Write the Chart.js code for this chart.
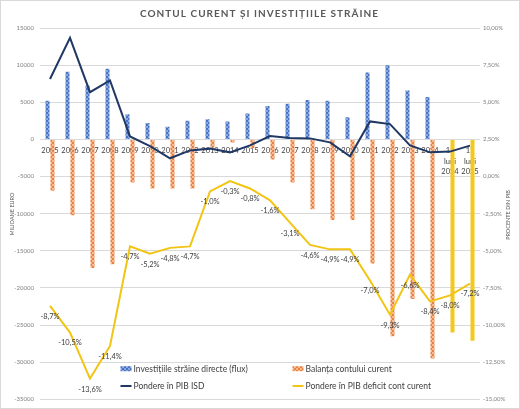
<!DOCTYPE html>
<html><head><meta charset="utf-8">
<script src="https://cdn.jsdelivr.net/npm/chart.js@4.4.1/dist/chart.umd.min.js"></script>
<style>html,body{margin:0;padding:0;background:#fff}#wrap{width:520px;height:409px;position:relative}</style>
</head><body><div id="wrap"><canvas id="c"></canvas></div>
<script>
// ---- data ----
const categories = ['2005','2006','2007','2008','2009','2010','2011','2012','2013','2014','2015','2016','2017','2018','2019','2020','2021','2022','2023','2024',['11','luni','2024'],['11','luni','2025']];
const fdiFlow = [5200,9100,7250,9500,3400,2200,1700,2500,2700,2400,3500,4500,4800,5300,5200,3000,9000,10000,6600,5700,null,null];
const caBalance = [-6900,-10200,-17300,-16800,-5800,-6600,-6600,-6600,-1100,-400,-1200,-2700,-5800,-9400,-10850,-10850,-16700,-26500,-21500,-29500,-26000,-27100];
const fdiShare = [6.57,9.34,5.68,6.47,2.70,2.05,1.23,1.76,1.88,1.63,2.10,2.73,2.59,2.57,2.30,1.36,3.71,3.53,2.10,1.63,1.68,2.08];
const deficitShare = [-8.7,-10.5,-13.6,-11.4,-4.7,-5.2,-4.8,-4.7,-1.0,-0.3,-0.8,-1.6,-3.1,-4.6,-4.9,-4.9,-7.0,-9.3,-6.6,-8.4,-8.0,-7.2];
const seriesNames = ['Investițiile străine directe (flux)','Balanța contului curent','Pondere în PIB ISD','Pondere în PIB deficit cont curent'];
const titleText = 'CONTUL CURENT ȘI INVESTIȚIILE STRĂINE';
const leftAxisTitle = 'MILIOANE EURO';
const rightAxisTitle = 'PROCENTE DIN PIB';
const leftRange = [-35000, 15000, 5000];
const rightRange = [-15, 10, 2.5];
const partialPeriods = [20, 21]; // indexes of the 11-month bars

// ---- styles ----
const FONT = 'Lato, "Liberation Sans", sans-serif';
function makePattern(base, light){
  const c = document.createElement('canvas'); c.width = 4; c.height = 4;
  const x = c.getContext('2d');
  x.fillStyle = base; x.fillRect(0,0,4,4);
  x.fillStyle = light; x.fillRect(0,0,2,2); x.fillRect(2,2,2,2);
  return x.createPattern(c, 'repeat');
}
const bluePat = makePattern('#4773c6', '#8eaadd');
const orangePat = makePattern('#ec8240', '#f5bb94');
const yellow = '#f4c81c';
const caColors = caBalance.map((v,i) => partialPeriods.includes(i) ? yellow : orangePat);

const titlePlugin = {
  id: 'titleDraw',
  afterDraw(chart){
    const ctx = chart.ctx;
    ctx.save();
    ctx.font = 'bold 10px ' + FONT;
    ctx.fillStyle = '#595959';
    ctx.textBaseline = 'middle';
    const w0 = ctx.measureText(titleText).width;
    const sp = Math.max(0, (238 - w0) / (titleText.length - 1));
    ctx.letterSpacing = sp + 'px';
    const w = ctx.measureText(titleText).width;
    ctx.textAlign = 'left';
    ctx.fillText(titleText, 259 - w/2 + sp/2, 13.5);
    ctx.restore();
    // axis titles
    ctx.save();
    ctx.font = '5.5px ' + FONT;
    ctx.fillStyle = '#595959';
    ctx.textAlign = 'center'; ctx.textBaseline = 'middle';
    ctx.translate(12, 214); ctx.rotate(-Math.PI/2); ctx.fillText(leftAxisTitle, 0, 0);
    ctx.restore();
    ctx.save();
    ctx.font = '5.5px ' + FONT;
    ctx.fillStyle = '#595959';
    ctx.textAlign = 'center'; ctx.textBaseline = 'middle';
    ctx.translate(508, 215); ctx.rotate(-Math.PI/2); ctx.fillText(rightAxisTitle, 0, 0);
    ctx.restore();
    // border
    ctx.save(); ctx.strokeStyle = '#d9d9d9'; ctx.lineWidth = 1;
    ctx.strokeRect(0.5, 0.5, chart.width - 1, chart.height - 1); ctx.restore();
  }
};

const labelPlugin = {
  id: 'pointLabels',
  afterDatasetsDraw(chart){
    const ctx = chart.ctx;
    const meta = chart.getDatasetMeta(3);
    const data = chart.data.datasets[3].data;
    ctx.save();
    ctx.font = '7.5px ' + FONT;
    ctx.fillStyle = '#404040';
    ctx.textAlign = 'center'; ctx.textBaseline = 'middle';
    meta.data.forEach((el, i) => {
      const v = data[i];
      if (v == null) return;
      ctx.fillText(v.toFixed(1).replace('.', ',') + '%', el.x, el.y + 10.5);
    });
    ctx.restore();
  }
};

const legendPlugin = {
  id: 'legendDraw',
  afterDraw(chart){
    const ctx = chart.ctx;
    const slots = [[0,120.5,368.7],[2,120.5,386],[1,292.5,368.7],[3,292.5,386]];
    ctx.save();
    ctx.font = '8.5px ' + FONT;
    ctx.textBaseline = 'middle'; ctx.textAlign = 'left';
    slots.forEach(([di, x, y]) => {
      const ds = chart.data.datasets[di];
      if (ds.type === 'bar') {
        ctx.fillStyle = di === 0 ? bluePat : orangePat;
        ctx.fillRect(x, y - 2.5, 11, 5);
      } else {
        ctx.strokeStyle = ds.borderColor; ctx.lineWidth = 2;
        ctx.beginPath(); ctx.moveTo(x, y); ctx.lineTo(x + 11, y); ctx.stroke();
      }
      ctx.fillStyle = '#404040';
      ctx.fillText(ds.label, x + 13, y + 0.5);
    });
    ctx.restore();
  }
};

new Chart(document.getElementById('c'), {
  data: {
    labels: categories,
    datasets: [
      { type:'bar', label: seriesNames[0], data: fdiFlow, backgroundColor: bluePat, yAxisID:'y', order: 2,
        categoryPercentage: 0.5, barPercentage: 0.8 },
      { type:'bar', label: seriesNames[1], data: caBalance, backgroundColor: caColors, yAxisID:'y', order: 2,
        categoryPercentage: 0.5, barPercentage: 0.8 },
      { type:'line', label: seriesNames[2], data: fdiShare, borderColor: '#1f3864', borderWidth: 2, pointRadius: 0,
        tension: 0, yAxisID:'y1', order: 1, fill:false },
      { type:'line', label: seriesNames[3], data: deficitShare, borderColor: '#f2c414', borderWidth: 2, pointRadius: 0,
        tension: 0, yAxisID:'y1', order: 0, fill:false }
    ]
  },
  options: {
    responsive: true, maintainAspectRatio: false, animation: false,
    layout: { padding: { top: 28, bottom: 8, left: 0, right: 0 } },
    plugins: { legend: { display: false }, title: { display: false }, tooltip: { enabled: false } },
    scales: {
      x: {
        position: { y: 0 }, offset: true,
        grid: { display: false, drawTicks: false }, border: { display: false },
        ticks: { autoSkip: false, maxRotation: 0, minRotation: 0, padding: 6,
          font: { family: FONT, size: 7.5, lineHeight: 1.4 }, color: '#404040' }
      },
      y: {
        position: 'left', min: leftRange[0], max: leftRange[1],
        afterFit(s){ s.width = 40; },
        grid: { color: '#d9d9d9', drawTicks: false }, border: { display: false },
        ticks: { stepSize: leftRange[2], padding: 6, font: { family: FONT, size: 6 }, color: '#808080',
          callback: v => String(v) }
      },
      y1: {
        position: 'right', min: rightRange[0], max: rightRange[1],
        afterFit(s){ s.width = 40; },
        grid: { display: false, drawTicks: false }, border: { display: false },
        ticks: { stepSize: rightRange[2], padding: 3, font: { family: FONT, size: 6 }, color: '#808080',
          callback: v => v.toFixed(2).replace('.', ',') + '%' }
      }
    }
  },
  plugins: [titlePlugin, labelPlugin, legendPlugin]
});
</script></body></html>
